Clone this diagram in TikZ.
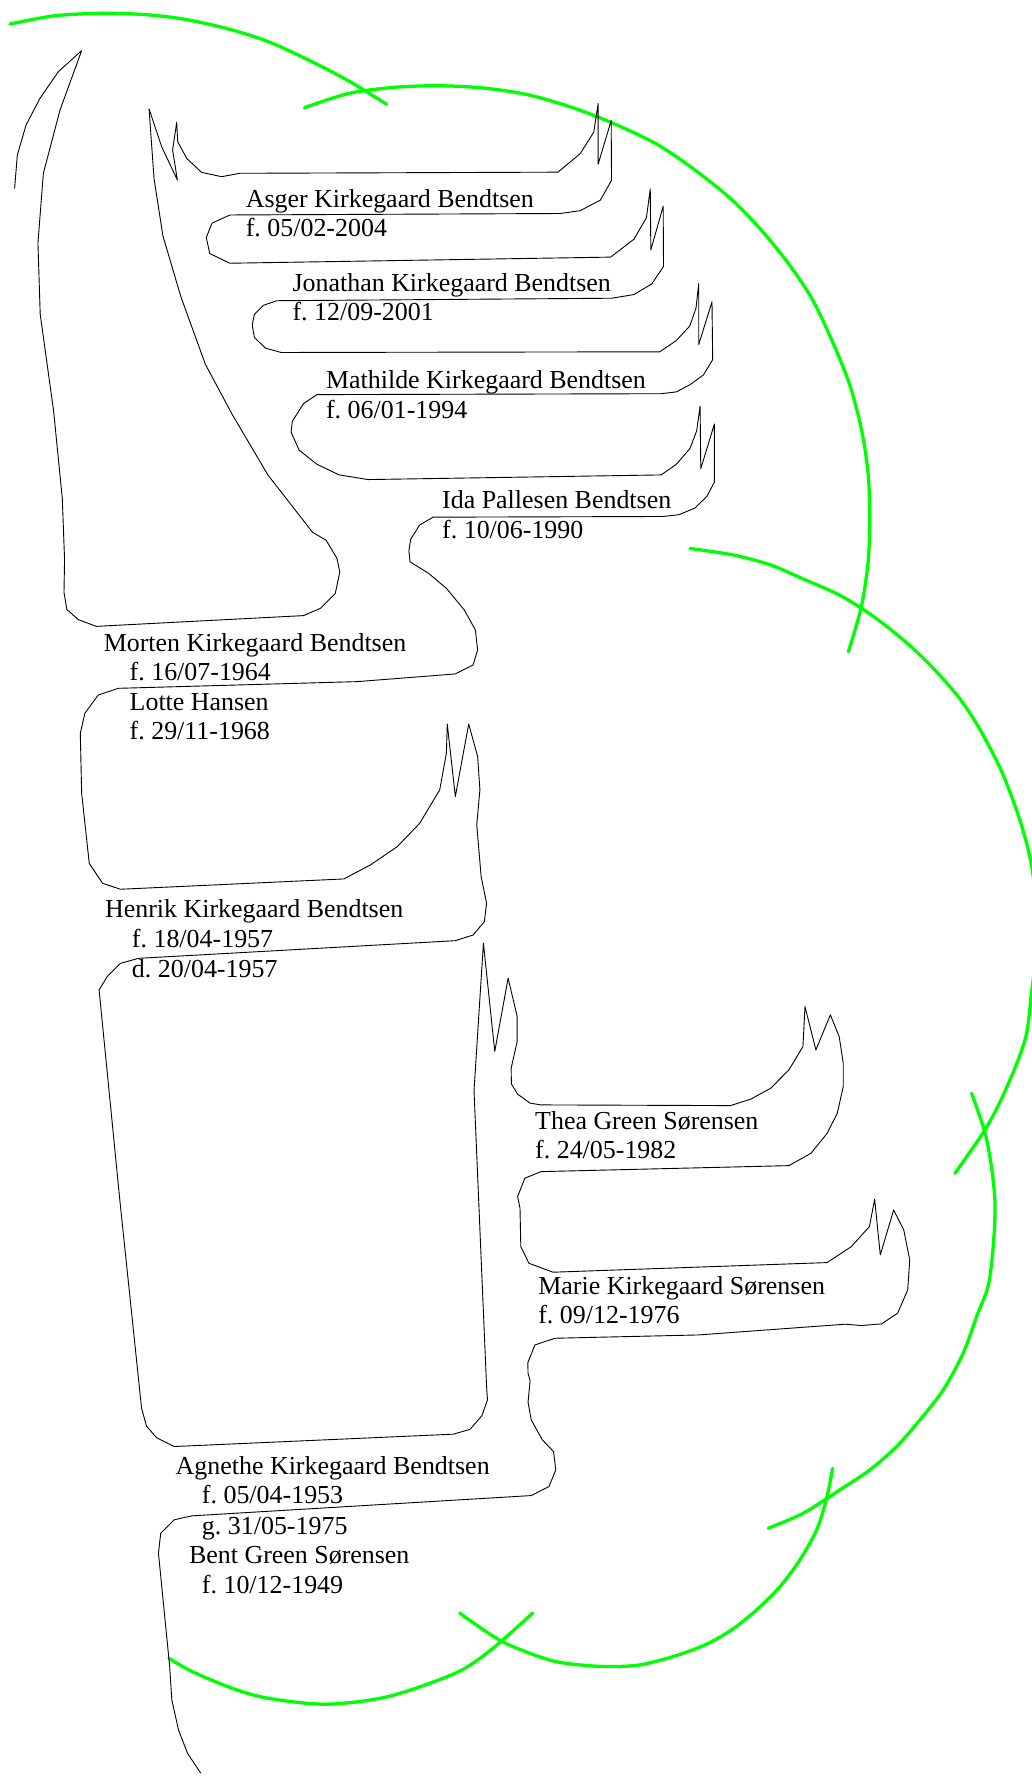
\documentclass[tikz,border=0pt]{standalone}
\usepackage{fontspec}
\setmainfont{Liberation Serif}
\frenchspacing
\definecolor{leafgreen}{RGB}{0,255,0}
\begin{document}
\begin{tikzpicture}[x=1pt,y=-1pt]
\tikzstyle{every node}+=[inner sep=0pt, anchor=base west, font=\fontsize{22.9}{26}\selectfont]
\tikzstyle{bark}=[black, line width=0.8pt, line join=round]
\tikzstyle{leaf}=[leafgreen, line width=2.9pt, line cap=round]
\useasboundingbox (0,0) rectangle (911,1568);
\draw [leaf] plot [smooth] coordinates {(8.8,21.2) (47.1,14.1) (86.8,11.8) (125.1,12.7) (161.9,16.8) (203,25.9) (238.4,37.4) (275.2,54.4) (309,72.1) (341.4,92.1)};
\draw [leaf] plot [smooth] coordinates {(268.7,95.1) (307.4,82.6) (346.8,77.2) (386.2,75.7) (425.6,77.6) (465.4,83.5) (504.3,94.6) (540.2,108.4) (579.2,126.9) (612.1,149) (645.1,175.4) (672,203) (696,232.5) (717,264) (734.9,301.5) (749.9,338.9) (760.4,378.3) (766.4,417.7) (767.9,457.2) (766.4,496.6) (760.4,536) (749,575.4)};
\draw [leaf] plot [smooth] coordinates {(609.2,484.2) (647.4,490) (679.8,498.6) (709.2,511.2) (741.6,525.6) (771,544.1) (800.5,567.5) (824,590) (847.5,617) (865.2,644.1) (882.9,677.9) (894.6,707.1) (903.5,734.2) (911,765.7) (917,820) (911,873.8) (906.4,912.1) (897.6,939.1) (882.9,972.9) (868.1,999.9) (843.1,1035.9)};
\draw [leaf] plot [smooth] coordinates {(857.8,965.2) (869.6,999.9) (875.5,1031.4) (878.5,1063) (877,1099) (872.5,1135) (862.2,1162.4) (850.4,1194.7) (832.8,1227.1) (812.2,1253.6) (791.6,1277.1) (768,1297.7) (741.5,1315.4) (709.2,1336) (678.3,1349.2)};
\draw [leaf] plot [smooth] coordinates {(735.1,1296.3) (729.8,1322.8) (721,1350.7) (706.2,1377.2) (688.6,1400.8) (668,1421.3) (645.9,1439) (622.3,1452.3) (594.4,1462.5) (565,1469.9) (538.5,1471.4) (512,1469.9) (484.7,1465.4) (443.4,1449.3) (405.9,1424.2)};
\draw [leaf] plot [smooth] coordinates {(149,1464) (169.5,1475.7) (204.9,1490.5) (236.5,1499.3) (287.7,1504.6) (342.9,1497.8) (402,1477.2) (433.5,1456.6) (470.2,1424.2)};
\draw [bark] (12.9,166.3) -- (15.3,136.9) -- (23,110.4) -- (35.3,86.8) -- (51.5,63.3) -- (72.1,44.7) -- (53,97.1) -- (38.3,153) -- (33.5,214.4) -- (35.5,277.5) -- (47.3,362.6) -- (55,440) -- (57,494) -- (56.5,523) -- (59,538) -- (69,547) -- (85,553) -- (268,543.5) -- (283,537) -- (296,524) -- (300,505) -- (297.5,493) -- (288,477) -- (276,470) -- (236.5,419.3) -- (204.9,365.7) -- (181.3,321.6) -- (159.6,261.7) -- (143.8,208.1) -- (136,157.7) -- (131.6,96.2);
\draw [bark] (131.6,96.2) -- (142.7,129.5) -- (156.6,158.9) -- (152.4,132.4) -- (156,108) -- (156.9,125.1) -- (164.8,139.8) -- (178,152.2) -- (195.7,156) -- (211.9,153) -- (492.6,152) -- (512.3,135.6) -- (524.2,116.7) -- (528.1,91.4) -- (528.1,145) -- (539.6,106.4) -- (539.9,159.2) -- (530.1,176.6) -- (512.3,186) -- (494.6,188.5) -- (203,189.8) -- (187.2,197) -- (182.1,209.7) -- (185.2,223.9) -- (203,232.4) -- (539.1,227);
\draw [bark] (539.1,227) -- (559.6,211.3) -- (570.7,192.3) -- (574.1,166.7) -- (574.6,220.7) -- (585.5,182.1) -- (585.8,235.3) -- (575.4,250.7) -- (559.6,260.1) -- (539.9,263.3) -- (244.3,265.5) -- (232.5,269.6) -- (224.6,277.5) -- (222.7,286.9) -- (224.6,298) -- (234.5,307.4) -- (248.3,311.2) -- (582.5,310.6);
\draw [bark] (582.5,310.6) -- (597.1,300.7) -- (609.1,287.7) -- (614.5,271.9) -- (616.9,250.3) -- (616.9,304.2) -- (628.6,266.4) -- (629.2,317.6) -- (621.1,331) -- (609.1,339.7) -- (597.1,346) -- (583.7,347.6) -- (279.8,348.4) -- (268,356.3) -- (258.1,372) -- (257,381.5) -- (264,397.3) -- (279.8,409.9) -- (299.5,419.3) -- (325.1,423.4) -- (583.7,419.3);
\draw [bark] (583.7,419.3) -- (597.1,409.9) -- (609.1,396.1) -- (615.1,380.3) -- (618.1,358.6) -- (618.7,413.8) -- (630.7,374.4) -- (630.7,425.6) -- (624.1,438.2) -- (613.6,448.5) -- (599.5,454.4) -- (585.2,456) -- (382.3,456.6) -- (370.5,463.5) -- (362.6,476.1) -- (361,486) -- (362,496) -- (378.3,506.1) -- (394.1,519.4) -- (409.9,538.5) -- (419.7,556.2) -- (421.7,573.8) -- (417.7,587.1) -- (402,595) -- (315.3,601.8) -- (104.4,607.7);
\draw [bark] (104.4,607.7) -- (86.7,613.6) -- (74.9,629.8) -- (70.9,647.4) -- (72.1,700.4) -- (78.8,762.2) -- (90.6,779.9) -- (106.4,785.1) -- (303.5,776) -- (327.1,763.6) -- (350.7,747.5) -- (370.5,726.9) -- (388.2,697.4) -- (394.1,665.1) -- (394.9,639.2) -- (402,703.3) -- (413.8,639.2) -- (421.7,668) -- (423.7,697.4) -- (420.9,728.3) -- (424.8,774) -- (429.6,797.5) -- (427.6,813.7) -- (417.7,825.5) -- (402,830.5) -- (122.2,846.1);
\draw [bark] (122.2,846.1) -- (106.4,850.5) -- (94.6,862.3) -- (87.5,874) -- (105.9,1060.6) -- (125,1243.4) -- (129.4,1259.2) -- (138.3,1269.3) -- (153.7,1277.1) -- (400.2,1266.2) -- (414.9,1262) -- (425.4,1250) -- (430.4,1235.9) -- (429.6,1224.5) -- (418.5,962.8) -- (426.8,832.8) -- (436.8,928.3) -- (448.6,863.6);
\draw [bark] (448.6,863.6) -- (456.5,897) -- (456.5,920) -- (451.3,943) -- (451.5,957) -- (457,966) -- (467.9,973.9) -- (477.6,975.5) -- (644.9,976.1) -- (662.6,970.5) -- (680.4,960.8) -- (696.5,944.6) -- (708.9,924) -- (710.7,888.7) -- (720.3,927) -- (733.1,896) -- (740.9,915.2) -- (744.5,938.7) -- (744.5,959.3) -- (739.2,982.9) -- (730.3,1000.5) -- (716,1018.2) -- (696.5,1029.1) -- (477.6,1034.4) -- (463.4,1040.2) -- (457,1056.4) -- (459.1,1066.7) -- (459.8,1100.6) -- (467,1115.3) -- (488.3,1123.2) -- (730.2,1114.7);
\draw [bark] (730.2,1114.7) -- (751.6,1100.6) -- (767.6,1082.9) -- (772.2,1058.8) -- (777.2,1107.9) -- (789,1068.2) -- (797.9,1085.9) -- (803.2,1112.3) -- (801.4,1138.8) -- (792.5,1159.4) -- (778.3,1168.8) -- (760.5,1170.3) -- (746.3,1169.1) -- (616.4,1178.6) -- (490.1,1181.5) -- (472.3,1187.4) -- (466,1203) -- (466.2,1212.4) -- (468,1219) -- (466.2,1238) -- (469,1253.5) -- (478.8,1271.2) -- (488.7,1281.5) -- (490.7,1297.7) -- (484.7,1312.4) -- (469,1320.4) -- (169.5,1338.3);
\draw [bark] (169.5,1338.3) -- (153.7,1341.8) -- (141.9,1353.6) -- (139.9,1371.3) -- (149.8,1471.3) -- (151.7,1500.8) -- (157.6,1527.3) -- (165.5,1547.8) -- (177.3,1565.5);
\draw (216.8,182.9) node (asger) {Asger Kirkegaard Bendtsen};
\draw (216.8,208.9) node (asgerf) {f. 05/02-2004};
\draw (258.1,257) node (jonathan) {Jonathan Kirkegaard Bendtsen};
\draw (258.1,283) node (jonathanf) {f. 12/09-2001};
\draw (287.7,343) node (mathilde) {Mathilde Kirkegaard Bendtsen};
\draw (287.7,369.5) node (mathildef) {f. 06/01-1994};
\draw (390.2,449.3) node (ida) {Ida Pallesen Bendtsen};
\draw (390.2,475.5) node (idaf) {f. 10/06-1990};
\draw (91.4,575) node (morten) {Morten Kirkegaard Bendtsen};
\draw (114.3,601) node (mortenf) {f. 16/07-1964};
\draw (114.3,627) node (lotte) {Lotte Hansen};
\draw (114.3,653) node (lottef) {f. 29/11-1968};
\draw (92.6,810.4) node (henrik) {Henrik Kirkegaard Bendtsen};
\draw (116.3,836.3) node (henrikf) {f. 18/04-1957};
\draw (116.3,862.8) node (henrikd) {d. 20/04-1957};
\draw (472.3,997.2) node (thea) {Thea Green Sørensen};
\draw (472.3,1022.8) node (theaf) {f. 24/05-1982};
\draw (475.1,1142.9) node (marie) {Marie Kirkegaard Sørensen};
\draw (475.1,1168.8) node (marief) {f. 09/12-1976};
\draw (154.9,1301.8) node (agnethe) {Agnethe Kirkegaard Bendtsen};
\draw (178.1,1327.8) node (agnethef) {f. 05/04-1953};
\draw (178.1,1354.5) node (agnetheg) {g. 31/05-1975};
\draw (166.7,1380.5) node (bent) {Bent Green Sørensen};
\draw (178.1,1406.5) node (bentf) {f. 10/12-1949};
\end{tikzpicture}
\end{document}
